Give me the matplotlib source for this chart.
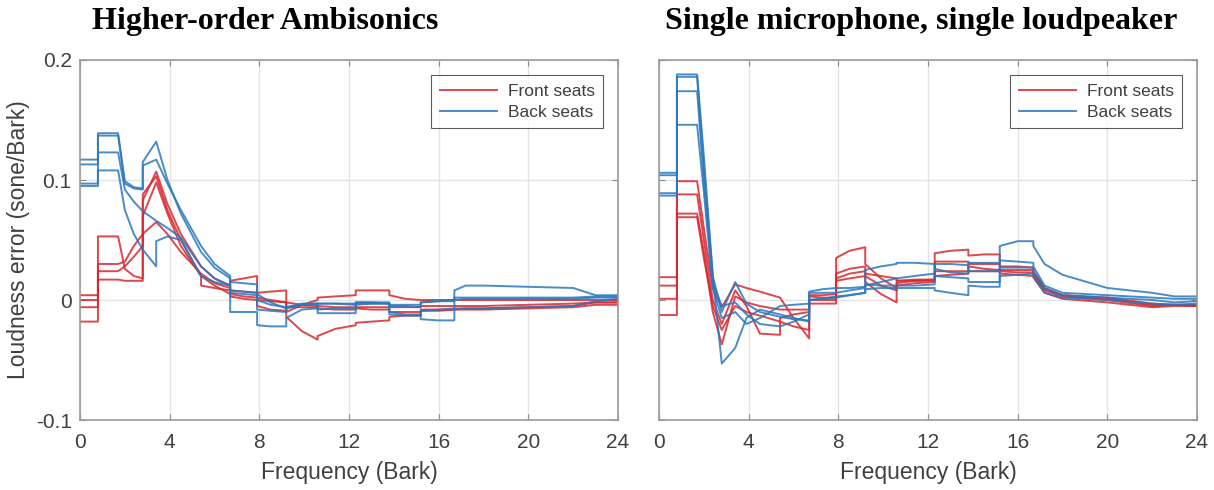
import matplotlib
matplotlib.use('Agg')
import matplotlib.pyplot as plt

# bark grid shared by all curves (duplicated points = band edges / steps)
bark = [0.0, 0.8, 0.8, 1.7, 1.7, 2.0, 2.4, 2.8, 2.8, 3.4, 3.4, 3.9, 4.5, 5.4, 5.4,
        6.0, 6.7, 6.7, 7.3, 7.9, 7.9, 8.5, 9.2, 9.2, 9.9, 10.6, 10.6, 11.4, 12.3, 12.3,
        13.0, 13.8, 13.8, 14.5, 15.2, 15.2, 16.0, 16.7, 16.7, 17.2, 18.0, 20.0, 22.0, 23.0, 24.0]

# Higher-order Ambisonics, front seats
hoa_front_1 = [0.004, 0.004, 0.053, 0.053, 0.053, 0.026, 0.020, 0.018, 0.083, 0.107, 0.107, 0.080, 0.055, 0.028, 0.028,
               0.018, 0.012, 0.016, 0.018, 0.020, 0.002, 0.000, -0.002, -0.002, -0.004, -0.005, -0.005, -0.006, -0.006, -0.006,
               -0.006, -0.006, -0.006, -0.006, -0.006, -0.005, -0.005, -0.005, -0.005, -0.005, -0.005, -0.004, -0.003, -0.002, -0.002]
hoa_front_2 = [-0.018, -0.018, 0.017, 0.017, 0.017, 0.016, 0.016, 0.016, 0.088, 0.103, 0.103, 0.075, 0.050, 0.020, 0.012,
               0.010, 0.008, 0.008, 0.007, 0.006, 0.006, 0.007, 0.008, -0.014, -0.026, -0.033, -0.030, -0.024, -0.021, -0.019,
               -0.018, -0.017, -0.014, -0.013, -0.013, -0.008, -0.008, -0.008, -0.008, -0.008, -0.008, -0.007, -0.006, -0.004, -0.004]
hoa_front_3 = [0.000, 0.000, 0.030, 0.030, 0.030, 0.032, 0.045, 0.055, 0.055, 0.065, 0.065, 0.055, 0.040, 0.022, 0.022,
               0.014, 0.010, 0.005, 0.003, 0.002, 0.000, -0.001, -0.002, -0.010, -0.004, 0.000, 0.002, 0.003, 0.004, 0.008,
               0.008, 0.008, 0.004, 0.001, 0.000, 0.000, 0.000, 0.000, 0.000, 0.000, 0.000, 0.000, 0.000, 0.000, 0.000]
hoa_front_4 = [-0.006, -0.006, 0.024, 0.024, 0.024, 0.028, 0.036, 0.045, 0.070, 0.098, 0.098, 0.072, 0.045, 0.020, 0.020,
               0.012, 0.005, 0.003, 0.001, 0.000, -0.005, -0.008, -0.009, -0.006, -0.006, -0.006, -0.007, -0.008, -0.008, -0.007,
               -0.008, -0.008, -0.010, -0.010, -0.010, -0.009, -0.009, -0.008, -0.007, -0.007, -0.007, -0.006, -0.005, -0.002, -0.002]

# Higher-order Ambisonics, back seats
hoa_back_1 = [0.117, 0.117, 0.139, 0.139, 0.139, 0.097, 0.093, 0.092, 0.115, 0.132, 0.132, 0.100, 0.072, 0.040, 0.040,
              0.027, 0.018, 0.015, 0.014, 0.013, 0.005, -0.002, -0.007, -0.007, -0.004, -0.003, -0.003, -0.003, -0.003, -0.002,
              -0.002, -0.002, -0.004, -0.004, -0.004, -0.002, -0.001, -0.001, 0.008, 0.012, 0.012, 0.011, 0.010, 0.004, 0.004]
hoa_back_2 = [0.113, 0.113, 0.137, 0.137, 0.137, 0.099, 0.094, 0.093, 0.112, 0.117, 0.117, 0.097, 0.075, 0.045, 0.045,
              0.030, 0.020, 0.006, 0.005, 0.004, 0.000, -0.004, -0.006, -0.006, -0.003, -0.003, -0.003, -0.003, -0.004, -0.002,
              -0.002, -0.003, -0.005, -0.005, -0.006, -0.002, -0.001, 0.000, 0.002, 0.002, 0.002, 0.002, 0.002, 0.003, 0.003]
hoa_back_3 = [0.097, 0.097, 0.123, 0.123, 0.123, 0.092, 0.082, 0.074, 0.074, 0.066, 0.066, 0.060, 0.052, 0.028, 0.028,
              0.018, 0.012, -0.010, -0.010, -0.010, -0.021, -0.022, -0.022, -0.015, -0.008, -0.007, -0.008, -0.007, -0.007, -0.003,
              -0.003, -0.003, -0.010, -0.012, -0.012, -0.016, -0.017, -0.017, -0.008, -0.007, -0.007, -0.006, -0.005, -0.001, 0.001]
hoa_back_4 = [0.095, 0.095, 0.108, 0.108, 0.108, 0.075, 0.055, 0.042, 0.042, 0.028, 0.049, 0.053, 0.050, 0.020, 0.020,
              0.015, 0.012, 0.008, 0.007, 0.006, -0.008, -0.009, -0.010, -0.006, -0.004, -0.003, -0.011, -0.011, -0.011, -0.004,
              -0.003, -0.003, -0.012, -0.013, -0.013, -0.009, -0.008, -0.007, 0.000, 0.001, 0.001, 0.001, 0.001, 0.002, 0.002]

# Single microphone / loudspeaker, front seats
mic_front_1 = [0.019, 0.019, 0.099, 0.099, 0.099, 0.060, 0.010, -0.006, -0.006, 0.013, 0.013, 0.010, 0.007, 0.002, 0.002,
               -0.015, -0.032, 0.004, 0.004, 0.005, 0.035, 0.041, 0.044, 0.030, 0.018, 0.010, 0.014, 0.016, 0.017, 0.039,
               0.041, 0.042, 0.037, 0.038, 0.038, 0.028, 0.028, 0.027, 0.024, 0.010, 0.004, 0.002, -0.003, -0.004, -0.004]
mic_front_2 = [0.012, 0.012, 0.088, 0.088, 0.088, 0.050, 0.000, -0.020, -0.020, 0.008, 0.008, -0.005, -0.028, -0.029, -0.015,
               -0.012, -0.010, 0.000, 0.000, 0.000, 0.022, 0.026, 0.028, 0.022, 0.020, 0.018, 0.016, 0.016, 0.016, 0.032,
               0.032, 0.032, 0.030, 0.030, 0.030, 0.024, 0.023, 0.023, 0.021, 0.008, 0.003, 0.000, -0.005, -0.004, -0.005]
mic_front_3 = [0.001, 0.001, 0.072, 0.072, 0.072, 0.040, -0.010, -0.037, -0.037, 0.003, 0.003, -0.002, -0.005, -0.008, -0.008,
               -0.008, -0.008, -0.003, -0.003, -0.003, 0.018, 0.022, 0.024, 0.020, 0.012, 0.008, 0.012, 0.014, 0.015, 0.024,
               0.024, 0.024, 0.028, 0.026, 0.025, 0.022, 0.021, 0.020, 0.019, 0.006, 0.001, -0.002, -0.006, -0.005, -0.005]
mic_front_4 = [-0.0125, -0.0125, 0.069, 0.069, 0.069, 0.035, -0.005, -0.025, -0.025, -0.005, -0.005, -0.010, -0.013, -0.018, -0.018,
               -0.022, -0.025, 0.003, 0.002, 0.002, 0.016, 0.018, 0.020, 0.015, 0.005, -0.002, 0.016, 0.017, 0.017, 0.020,
               0.021, 0.022, 0.024, 0.024, 0.024, 0.025, 0.025, 0.025, 0.022, 0.009, 0.004, 0.001, -0.004, -0.004, -0.004]

# Single microphone / loudspeaker, back seats
mic_back_1 = [0.106, 0.106, 0.188, 0.188, 0.188, 0.120, 0.020, -0.053, -0.053, -0.040, -0.040, -0.015, -0.008, -0.012, -0.012,
              -0.015, -0.018, 0.000, 0.001, 0.003, 0.003, 0.004, 0.006, 0.025, 0.028, 0.030, 0.031, 0.031, 0.030, 0.026,
              0.023, 0.022, 0.031, 0.031, 0.031, 0.045, 0.049, 0.049, 0.045, 0.030, 0.021, 0.010, 0.006, 0.003, 0.003]
mic_back_2 = [0.104, 0.104, 0.186, 0.186, 0.186, 0.110, 0.020, -0.010, -0.010, 0.015, 0.015, -0.003, -0.010, -0.014, -0.014,
              -0.016, -0.017, 0.006, 0.006, 0.006, 0.006, 0.008, 0.010, 0.012, 0.015, 0.018, 0.018, 0.020, 0.022, 0.030,
              0.030, 0.029, 0.024, 0.024, 0.024, 0.033, 0.032, 0.031, 0.028, 0.012, 0.006, 0.004, 0.002, 0.001, 0.001]
mic_back_3 = [0.089, 0.089, 0.174, 0.174, 0.174, 0.100, 0.015, -0.005, -0.005, -0.002, -0.002, -0.012, -0.020, -0.022, -0.022,
              -0.018, -0.012, 0.007, 0.009, 0.010, 0.010, 0.010, 0.011, 0.013, 0.012, 0.012, 0.012, 0.012, 0.013, 0.020,
              0.019, 0.018, 0.015, 0.015, 0.015, 0.027, 0.027, 0.027, 0.024, 0.010, 0.004, 0.002, 0.000, -0.002, -0.001]
mic_back_4 = [0.087, 0.087, 0.146, 0.146, 0.146, 0.090, 0.010, -0.015, -0.015, -0.010, -0.010, -0.020, -0.015, -0.005, -0.005,
              -0.004, -0.003, 0.000, 0.001, 0.002, 0.002, 0.004, 0.006, 0.009, 0.010, 0.010, 0.010, 0.010, 0.010, 0.008,
              0.006, 0.004, 0.012, 0.011, 0.011, 0.020, 0.021, 0.022, 0.019, 0.006, 0.002, 0.000, -0.003, -0.004, -0.003]

titles = ['Higher-order Ambisonics', 'Single microphone, single loudpeaker']
front_color = '#d9272e'
back_color = '#2a78bd'
grey = '#404040'

plt.rcParams['font.family'] = ['Liberation Sans', 'DejaVu Sans']

fig = plt.figure(figsize=(12.14, 4.90), dpi=100)
ax_left = fig.add_axes([80 / 1214, 70 / 490, 538 / 1214, 360 / 490])
ax_right = fig.add_axes([659 / 1214, 70 / 490, 538 / 1214, 360 / 490])

panels = [
    (ax_left, [hoa_front_1, hoa_front_2, hoa_front_3, hoa_front_4],
     [hoa_back_1, hoa_back_2, hoa_back_3, hoa_back_4]),
    (ax_right, [mic_front_1, mic_front_2, mic_front_3, mic_front_4],
     [mic_back_1, mic_back_2, mic_back_3, mic_back_4]),
]

for ax, fronts, backs in panels:
    for i, y in enumerate(fronts):
        ax.plot(bark, y, color=front_color, lw=1.4, alpha=0.85,
                label='Front seats' if i == 0 else None)
    for i, y in enumerate(backs):
        ax.plot(bark, y, color=back_color, lw=1.4, alpha=0.85,
                label='Back seats' if i == 0 else None)

    ax.set_xlim(0, 24)
    ax.set_ylim(-0.1, 0.2)
    ax.set_xticks(range(0, 25, 4))
    ax.set_yticks([-0.1, 0, 0.1, 0.2])
    ax.grid(True, color='#e3e3e3', lw=1)
    ax.set_axisbelow(True)
    ax.tick_params(direction='in', length=4, width=0.8, colors='#8a8a8a',
                   labelcolor=grey, labelsize=15, top=True, right=True, pad=6)
    ax.tick_params(axis='x', pad=9)
    for s in ax.spines.values():
        s.set_color('#9a9a9a')
        s.set_linewidth(1.2)
    ax.set_xlabel('Frequency (Bark)', fontsize=16.5, color=grey, labelpad=7)
    leg = ax.legend(loc='upper right', fontsize=12.5, handlelength=3.3,
                    frameon=True, fancybox=False, borderaxespad=0.85,
                    borderpad=0.5, labelspacing=0.35, handletextpad=0.6)
    leg.get_frame().set_edgecolor('#333333')
    leg.get_frame().set_linewidth(0.8)
    for t in leg.get_texts():
        t.set_color(grey)

ax_left.set_yticklabels(['-0.1', '0', '0.1', '0.2'])
ax_left.set_ylabel('Loudness error (sone/Bark)', fontsize=16.5, color=grey, labelpad=4)
ax_right.set_yticklabels([])

fig.text(92 / 1214, 1 - 21 / 490, titles[0], fontsize=23, fontweight='bold',
         family='Liberation Serif', ha='left', va='center')
fig.text(665 / 1214, 1 - 21 / 490, titles[1], fontsize=23, fontweight='bold',
         family='Liberation Serif', ha='left', va='center')

fig.savefig('out.png', dpi=100)
